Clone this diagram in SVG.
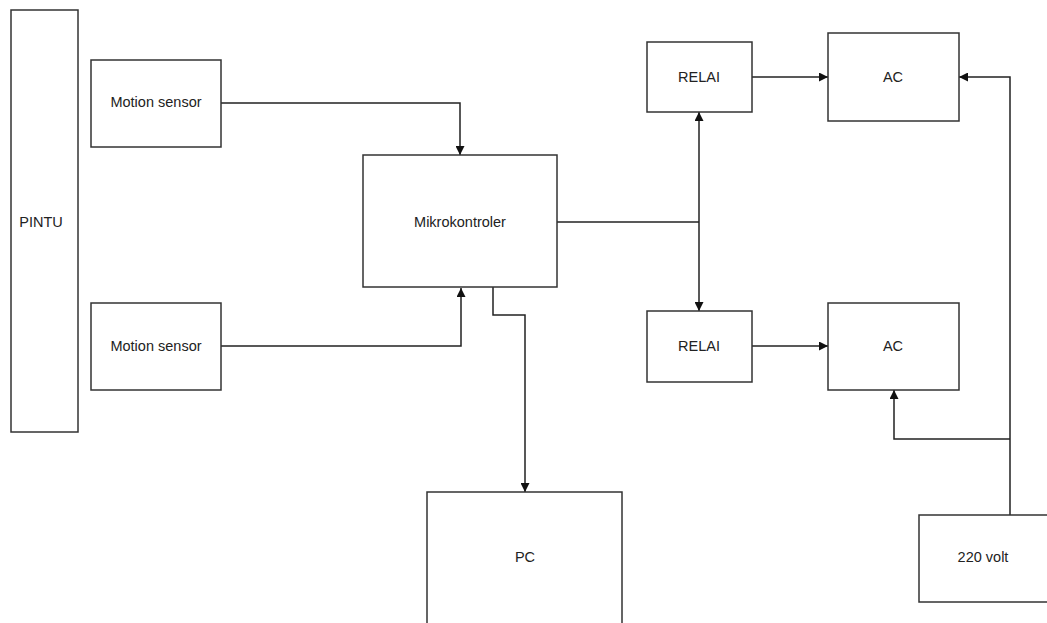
<svg xmlns="http://www.w3.org/2000/svg" width="1047" height="623" viewBox="0 0 1047 623">
<style>
.box{fill:#fff;stroke:#333;stroke-width:1.5}
.t{font-family:"Liberation Sans",Arial,sans-serif;font-size:14.5px;fill:#222;text-anchor:middle;dominant-baseline:central}
.c{fill:none;stroke:#222;stroke-width:1.5}
</style>
<defs>
<marker id="a" viewBox="0 0 10 10" refX="10" refY="5" markerWidth="9" markerHeight="9" markerUnits="userSpaceOnUse" orient="auto">
<path d="M0,0 L10,5 L0,10 Z" fill="#111"/>
</marker>
</defs>
<rect width="1047" height="623" fill="#fff"/>
<g id="connectors">
<path class="c" d="M221,103 H460 V155" marker-end="url(#a)"/>
<path class="c" d="M221,346 H461 V288" marker-end="url(#a)"/>
<path class="c" d="M557,222 H699"/>
<path class="c" d="M699,222 V112" marker-end="url(#a)"/>
<path class="c" d="M699,222 V311" marker-end="url(#a)"/>
<path class="c" d="M493,287 V315 H525 V492" marker-end="url(#a)"/>
<path class="c" d="M752,77 H828" marker-end="url(#a)"/>
<path class="c" d="M752,346 H828" marker-end="url(#a)"/>
<path class="c" d="M1010,515 V77 H959" marker-end="url(#a)"/>
<path class="c" d="M1010,439 H894 V390" marker-end="url(#a)"/>
</g>
<g id="pintu"><rect class="box" x="11" y="10" width="67" height="422"/><text class="t" x="41" y="222">PINTU</text></g>
<g id="motion1"><rect class="box" x="91" y="60" width="130" height="87"/><text class="t" x="156" y="102">Motion sensor</text></g>
<g id="motion2"><rect class="box" x="91" y="303" width="130" height="87"/><text class="t" x="156" y="346">Motion sensor</text></g>
<g id="mikro"><rect class="box" x="363" y="155" width="194" height="132"/><text class="t" x="460" y="222">Mikrokontroler</text></g>
<g id="relai1"><rect class="box" x="647" y="42" width="105" height="70"/><text class="t" x="699" y="77">RELAI</text></g>
<g id="relai2"><rect class="box" x="647" y="311" width="105" height="71"/><text class="t" x="699" y="346">RELAI</text></g>
<g id="ac1"><rect class="box" x="828" y="33" width="131" height="88"/><text class="t" x="893" y="77">AC</text></g>
<g id="ac2"><rect class="box" x="828" y="303" width="131" height="87"/><text class="t" x="893" y="346">AC</text></g>
<g id="pc"><rect class="box" x="427" y="492" width="195" height="140"/><text class="t" x="525" y="557">PC</text></g>
<g id="volt"><rect class="box" x="919" y="515" width="130" height="87"/><text class="t" x="983" y="557">220 volt</text></g>
</svg>
